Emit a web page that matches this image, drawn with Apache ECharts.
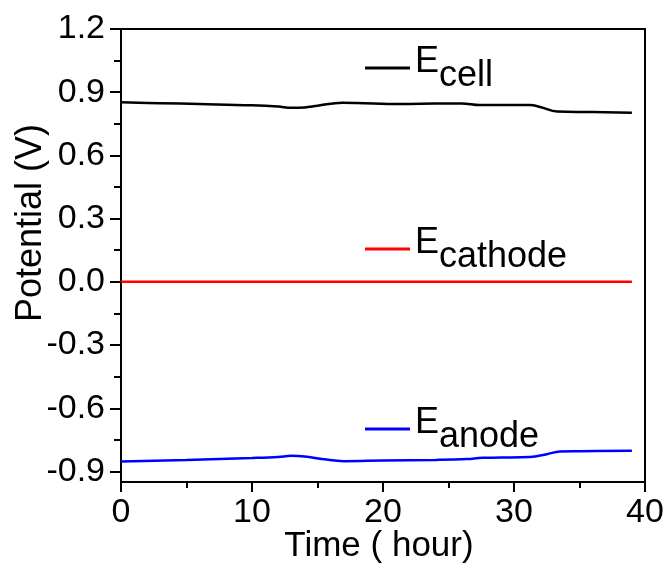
<!DOCTYPE html>
<html>
<head>
<meta charset="utf-8">
<script src="https://cdn.jsdelivr.net/npm/echarts@6/dist/echarts.min.js"></script>
<style>html,body{margin:0;padding:0;background:#fff}#c{width:668px;height:569px}</style>
</head>
<body>
<div id="c"></div>
<script>
// ---- data ----
const timeCell = [0, 3, 6, 10, 12, 13, 14, 15, 16.9, 18, 21.3, 24, 26, 27.4, 31.2, 32, 33.3, 36, 39];
const eCell = [0.852, 0.848, 0.844, 0.838, 0.832, 0.826, 0.828, 0.836, 0.850, 0.849, 0.844, 0.846, 0.847, 0.839, 0.839, 0.830, 0.808, 0.806, 0.802];
const timeCathode = [0, 39];
const eCathode = [0, 0];
const timeAnode = [0, 5, 10, 12, 13, 14, 15.5, 17, 20, 24, 26.4, 27.6, 29, 31.2, 32.5, 33.5, 35, 39];
const eAnode = [-0.853, -0.846, -0.836, -0.831, -0.826, -0.829, -0.842, -0.851, -0.848, -0.845, -0.841, -0.835, -0.834, -0.831, -0.818, -0.805, -0.804, -0.802];
const yTicks = [-0.9, -0.6, -0.3, 0.0, 0.3, 0.6, 0.9, 1.2];
const yMinorTicks = [-0.75, -0.45, -0.15, 0.15, 0.45, 0.75, 1.05];
const xTicks = [0, 10, 20, 30, 40];
const seriesNames = ['cell', 'cathode', 'anode'];

const zip = (xs, ys) => xs.map((x, i) => [x, ys[i]]);
const FONT = "'Liberation Sans', Arial, sans-serif";
const FS = 34;
const LFS = 36;

const chart = echarts.init(document.getElementById('c'), null, {renderer: 'canvas'});

function legendFor(name, top) {
  return {
    data: [name], left: 365, top: top, padding: 0,
    itemWidth: 45, itemHeight: 3, itemGap: 5,
    icon: 'rect',
    formatter: n => '{e|E}{s|' + n + '}',
    textStyle: {
      padding: [0, 0, 12, 0],
      rich: {
        e: {fontSize: LFS, fontFamily: FONT, color: '#000', lineHeight: 36, verticalAlign: 'top'},
        s: {fontSize: LFS, fontFamily: FONT, color: '#000', lineHeight: 36, padding: [14, 0, 0, 0], verticalAlign: 'top'}
      }
    }
  };
}

const option = {
  animation: false,
  backgroundColor: '#fff',
  grid: {left: 121, right: 23, top: 29, bottom: 87, show: true, borderColor: '#000', borderWidth: 2},
  legend: [legendFor('cell', 44), legendFor('cathode', 225), legendFor('anode', 405)],
  xAxis: {
    type: 'value', min: 0, max: 40, interval: 10,
    axisLine: {show: true, onZero: false, lineStyle: {color: '#000', width: 2}},
    axisTick: {show: true, inside: false, length: 10, lineStyle: {color: '#000', width: 2}},
    minorTick: {show: true, splitNumber: 2, length: 6, lineStyle: {color: '#000', width: 2}},
    axisLabel: {fontSize: FS, fontFamily: FONT, color: '#000', margin: 14},
    splitLine: {show: false}
  },
  yAxis: [{
    type: 'value', min: -0.95, max: 1.2, position: 'left',
    axisLine: {show: true, onZero: false, lineStyle: {color: '#000', width: 2}},
    axisTick: {show: true, inside: false, length: 11, customValues: yTicks, lineStyle: {color: '#000', width: 2}},
    axisLabel: {customValues: yTicks, fontSize: FS, fontFamily: FONT, color: '#000', margin: 16,
      formatter: v => Number(v).toFixed(1)},
    splitLine: {show: false}
  }, {
    type: 'value', min: -0.95, max: 1.2, position: 'left',
    axisLine: {show: false, onZero: false},
    axisTick: {show: true, inside: false, length: 7, customValues: yMinorTicks, lineStyle: {color: '#000', width: 2}},
    axisLabel: {show: false},
    splitLine: {show: false}
  }],
  graphic: [{
    type: 'text', x: 31, y: 223, rotation: Math.PI / 2,
    style: {text: 'Potential (V)', fontSize: 36, fontFamily: FONT, fill: '#000', align: 'center', verticalAlign: 'middle'}
  }, {
    type: 'text', x: 379, y: 546,
    style: {text: 'Time ( hour)', fontSize: 35, fontFamily: FONT, fill: '#000', align: 'center', verticalAlign: 'middle'}
  }],
  series: [
    {name: 'cell', type: 'line', data: zip(timeCell, eCell), symbol: 'none', smooth: 0.4,
      lineStyle: {color: '#000', width: 2.5}, itemStyle: {color: '#000'}},
    {name: 'cathode', type: 'line', data: zip(timeCathode, eCathode), symbol: 'none',
      lineStyle: {color: '#ff0000', width: 2.5}, itemStyle: {color: '#ff0000'}},
    {name: 'anode', type: 'line', data: zip(timeAnode, eAnode), symbol: 'none', smooth: 0.4,
      lineStyle: {color: '#0000ff', width: 2.5}, itemStyle: {color: '#0000ff'}}
  ]
};
chart.setOption(option);
</script>
</body>
</html>
